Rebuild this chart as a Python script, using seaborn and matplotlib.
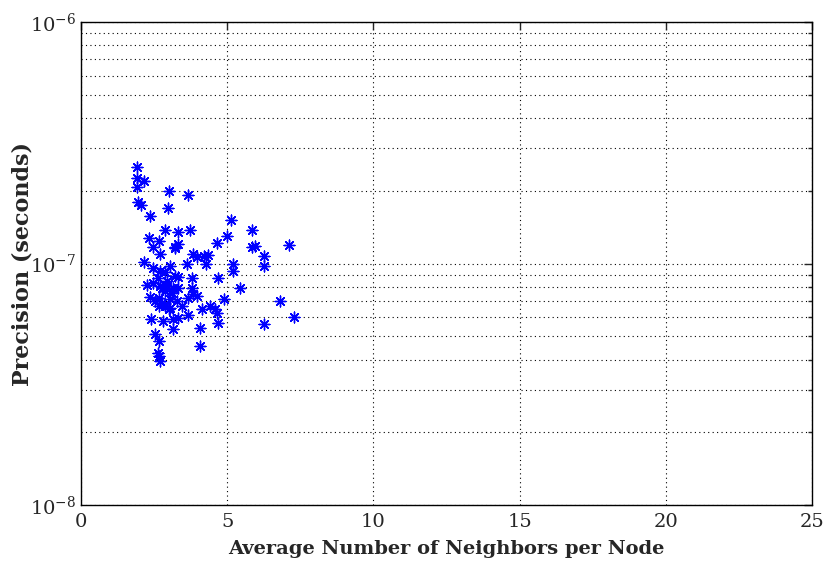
import matplotlib
matplotlib.use("Agg")
import matplotlib.pyplot as plt
import seaborn as sns
import pandas as pd
from matplotlib.ticker import LogLocator, FixedLocator

neighbors = [1.92, 1.92, 2.15, 1.92, 3.01, 1.95, 2.05, 3.66, 2.98, 2.36,
             5.13, 5.85, 3.73, 2.87, 3.32, 2.33, 2.67, 2.46, 2.70, 3.21,
             2.15, 2.46, 2.70, 3.04, 2.87, 2.63, 2.94, 3.21, 2.70, 2.87,
             2.36, 2.53, 2.67, 3.04, 2.67, 2.80, 2.39, 2.53, 2.67, 2.63,
             2.67, 2.70, 2.26, 2.77, 2.94, 3.11, 2.87, 3.01, 3.15, 3.15,
             3.32, 3.66, 3.45, 3.28, 3.32, 3.32, 3.80, 3.80, 3.83, 3.66,
             3.97, 3.63, 3.83, 3.21, 3.32, 4.27, 4.34, 4.65, 4.99, 5.20,
             5.20, 4.69, 4.89, 4.58, 4.65, 4.69, 4.41, 4.14, 4.07, 4.07,
             5.44, 5.85, 5.95, 6.26, 6.26, 6.26, 6.81, 7.11, 7.28, 3.97,
             4.20, 2.46, 3.15, 2.77, 3.04]
precision = [2.50e-7, 2.25e-7, 2.19e-7, 2.07e-7, 1.99e-7, 1.79e-7, 1.74e-7, 1.92e-7, 1.69e-7, 1.58e-7,
             1.52e-7, 1.38e-7, 1.38e-7, 1.37e-7, 1.345e-7, 1.28e-7, 1.234e-7, 1.165e-7, 1.10e-7, 1.165e-7,
             1.01e-7, 9.6e-8, 9.35e-8, 9.8e-8, 9.18e-8, 8.67e-8, 8.5e-8, 8.91e-8, 8.1e-8, 7.73e-8,
             7.3e-8, 7.02e-8, 7.23e-8, 7.16e-8, 6.7e-8, 5.8e-8, 5.91e-8, 5.13e-8, 4.79e-8, 4.28e-8,
             4.15e-8, 3.96e-8, 8.18e-8, 7.88e-8, 8.1e-8, 7.58e-8, 6.7e-8, 6.5e-8, 5.91e-8, 5.37e-8,
             5.97e-8, 6.14e-8, 6.7e-8, 7.02e-8, 7.88e-8, 8.83e-8, 8.67e-8, 7.88e-8, 7.51e-8, 7.23e-8,
             7.37e-8, 1.00e-7, 1.10e-7, 1.154e-7, 1.21e-7, 1.00e-7, 1.08e-7, 1.22e-7, 1.294e-7, 1.00e-7,
             9.35e-8, 8.75e-8, 7.16e-8, 6.5e-8, 6.26e-8, 5.69e-8, 6.7e-8, 6.5e-8, 5.42e-8, 4.57e-8,
             7.95e-8, 1.165e-7, 1.177e-7, 1.07e-7, 9.8e-8, 5.64e-8, 7.02e-8, 1.188e-7, 6.03e-8, 1.06e-7,
             1.07e-7, 8.34e-8, 7.95e-8, 6.86e-8, 6.56e-8]

xticks = [0, 5, 10, 15, 20, 25]
xlabel = "Average Number of Neighbors per Node"
ylabel = "Precision (seconds)"

df = pd.DataFrame({"x": neighbors, "y": precision})

sns.set_style("white")
plt.rcParams["font.family"] = ["DejaVu Serif"]
plt.rcParams["mathtext.fontset"] = "dejavuserif"

fig = plt.figure(figsize=(8.27, 5.63), dpi=100)
ax = fig.add_axes([81/827, 1-505/563, 731/827, 483/563])

sns.scatterplot(data=df, x="x", y="y", ax=ax, marker=(8, 2, 0), s=60,
                color="#0000ff", edgecolor="#0000ff", linewidth=1.0)

ax.set_yscale("log")
ax.set_xlim(0, 25)
ax.set_ylim(1e-8, 1e-6)
ax.xaxis.set_major_locator(FixedLocator(xticks))
ax.set_xticklabels([str(t) for t in xticks])
ax.yaxis.set_major_locator(LogLocator(base=10, numticks=10))
ax.yaxis.set_minor_locator(LogLocator(base=10, subs=range(2, 10), numticks=20))

ax.grid(True, which="major", axis="both", linestyle=(0, (1, 3)), color="black", linewidth=0.8)
ax.grid(True, which="minor", axis="y", linestyle=(0, (1, 3)), color="black", linewidth=0.8)

ax.tick_params(which="both", direction="in", top=True, right=True, labelsize=14)
ax.tick_params(axis="x", pad=6)
ax.tick_params(which="major", length=6, width=1)
ax.tick_params(which="minor", length=3, width=1)
for sp in ax.spines.values():
    sp.set_color("black")
    sp.set_linewidth(1)

ax.set_xlabel(xlabel, fontsize=14, fontweight="bold", labelpad=6)
ax.set_ylabel(ylabel, fontsize=16, fontweight="bold", va="center")
ax.yaxis.set_label_coords(-0.0807, 0.5)

fig.savefig("out.png", dpi=100)
